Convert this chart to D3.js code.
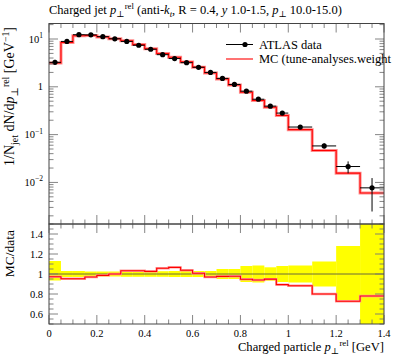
<!DOCTYPE html>
<html><head><meta charset="utf-8">
<script src="https://cdn.jsdelivr.net/npm/d3@7"></script>
<style>
body{margin:0;background:#fff}
svg{display:block}
text{font-family:"Liberation Serif","DejaVu Serif",serif;fill:#000}
</style>
</head><body>
<svg id="c" width="397" height="358"></svg>
<script>
// ---------------- data ----------------
const binEdges = [0,0.05,0.1,0.15,0.2,0.25,0.3,0.35,0.4,0.45,0.5,0.55,0.6,0.65,0.7,0.75,0.8,0.85,0.9,0.95,1.0,1.1,1.2,1.3,1.4];
const dataVals = [3.25,8.9,12.3,12.2,11.2,10.1,8.9,7.4,6.1,4.7,3.9,3.2,2.56,2.0,1.5,1.12,0.81,0.55,0.394,0.282,0.144,0.058,0.0215,0.0077];
const dataErrUp = [0.13,0.03,0.03,0.025,0.025,0.025,0.028,0.028,0.028,0.028,0.03,0.03,0.03,0.03,0.05,0.05,0.08,0.085,0.067,0.08,0.085,0.125,0.28,0.6];
const dataErrDn = [0.065,0.03,0.03,0.025,0.025,0.025,0.028,0.028,0.028,0.028,0.03,0.03,0.03,0.03,0.05,0.05,0.08,0.085,0.067,0.08,0.085,0.125,0.28,0.68];
const mcVals = [3.16,8.48,11.72,11.83,11.05,10.1,9.19,7.64,6.26,4.97,4.16,3.32,2.58,1.94,1.465,1.094,0.767,0.517,0.374,0.252,0.127,0.0464,0.01563,0.00601];
const xTicks = [0,0.2,0.4,0.6,0.8,1.0,1.2,1.4];
const xTickLabels = ["0","0.2","0.4","0.6","0.8","1","1.2","1.4"];
const yDecades = [10,1,0.1,0.01];
const yDecadeLabels = [["10","1"],["1",""],["10","−1"],["10","−2"]];
const ratioTicks = [0.6,0.8,1.0,1.2,1.4];
const ratioTickLabels = ["0.6","0.8","1","1.2","1.4"];

// ---------------- layout ----------------
const L=49, R=384, T=23.5, M=224, B=324;
const svg = d3.select("#c");
const x = d3.scaleLinear().domain([0,1.4]).range([L,R]);
const y = d3.scaleLog().domain([1.35e-3,21.1]).range([M,T]);
const yr = d3.scaleLinear().domain([0.5,1.5]).range([B,M]);

const defs = svg.append("defs");
defs.append("clipPath").attr("id","cu").append("rect").attr("x",L).attr("y",T).attr("width",R-L).attr("height",M-T);
defs.append("clipPath").attr("id","cr").append("rect").attr("x",L).attr("y",M).attr("width",R-L).attr("height",B-M);

const bins = dataVals.map((v,i)=>({lo:binEdges[i],hi:binEdges[i+1],v,up:dataErrUp[i],dn:dataErrDn[i],mc:mcVals[i]}));

// ---------------- ratio panel ----------------
const gr = svg.append("g").attr("clip-path","url(#cr)");
gr.selectAll("rect.band").data(bins).enter().append("rect")
  .attr("x",d=>x(d.lo)).attr("width",d=>x(d.hi)-x(d.lo))
  .attr("y",d=>yr(1+d.up)).attr("height",d=>yr(1-d.dn)-yr(1+d.up))
  .attr("fill","#ffff00");
gr.append("line").attr("x1",L).attr("x2",R).attr("y1",yr(1)).attr("y2",yr(1))
  .attr("stroke","#6b6b3a").attr("stroke-width",1);
const stepPts = (acc)=>{const p=[];bins.forEach(d=>{p.push([x(d.lo),acc(d)]);p.push([x(d.hi),acc(d)]);});return p;};
const line = d3.line();
const rPts = stepPts(d=>yr(d.mc/d.v));
gr.append("path").attr("d",line(rPts)).attr("fill","none").attr("stroke","#ff9a9a").attr("stroke-width",2.4);
gr.append("path").attr("d",line(rPts)).attr("fill","none").attr("stroke","#ff0000").attr("stroke-width",1.1);

// ---------------- upper panel ----------------
const gu = svg.append("g").attr("clip-path","url(#cu)");
const uPts = stepPts(d=>y(d.mc));
gu.append("path").attr("d",line(uPts)).attr("fill","none").attr("stroke","#ff8c8c").attr("stroke-width",3);
gu.append("path").attr("d",line(uPts)).attr("fill","none").attr("stroke","#ff0000").attr("stroke-width",1.1);
const gd = gu.append("g");
gd.selectAll("line.h").data(bins).enter().append("line")
  .attr("x1",d=>x(d.lo)).attr("x2",d=>x(d.hi)).attr("y1",d=>y(d.v)).attr("y2",d=>y(d.v))
  .attr("stroke","#000").attr("stroke-width",1);
gd.selectAll("line.v").data(bins).enter().append("line")
  .attr("x1",d=>x((d.lo+d.hi)/2)).attr("x2",d=>x((d.lo+d.hi)/2))
  .attr("y1",d=>y(d.v*(1+d.up))).attr("y2",d=>y(d.v*(1-d.dn)))
  .attr("stroke","#000").attr("stroke-width",1);
gd.selectAll("circle").data(bins).enter().append("circle")
  .attr("cx",d=>x((d.lo+d.hi)/2)).attr("cy",d=>y(d.v)).attr("r",2.6).attr("fill","#000");

// ---------------- frames & ticks ----------------
const tickCol="#777", frameCol="#444";
const tk = svg.append("g").attr("stroke",tickCol).attr("stroke-width",0.9);
const minorX = d3.range(0,1.4001,0.05);
[[T,1],[M,-1],[M,1],[B,-1]].forEach(([yy,dir])=>{
  minorX.forEach(v=>{
    const major = Math.abs(v/0.2-Math.round(v/0.2))<1e-6;
    const len = major?9:4.5;
    tk.append("line").attr("x1",x(v)).attr("x2",x(v)).attr("y1",yy).attr("y2",yy+dir*len);
  });
});
const [ymin,ymax]=y.domain();
for(let k=-3;k<=1;k++){
  for(let m=1;m<=9;m++){
    const v=m*Math.pow(10,k);
    if(v<ymin||v>ymax) continue;
    const len = m===1?9:4.5;
    [[L,1],[R,-1]].forEach(([xx,dir])=>tk.append("line").attr("x1",xx).attr("x2",xx+dir*len).attr("y1",y(v)).attr("y2",y(v)));
  }
}
const minorR = d3.range(0.5,1.5001,0.05);
minorR.forEach(v=>{
  const major = ratioTicks.some(t=>Math.abs(t-v)<1e-6);
  const len = major?9:4.5;
  [[L,1],[R,-1]].forEach(([xx,dir])=>tk.append("line").attr("x1",xx).attr("x2",xx+dir*len).attr("y1",yr(v)).attr("y2",yr(v)));
});
svg.append("rect").attr("x",L).attr("y",T).attr("width",R-L).attr("height",M-T).attr("fill","none").attr("stroke",frameCol).attr("stroke-width",1);
svg.append("rect").attr("x",L).attr("y",M).attr("width",R-L).attr("height",B-M).attr("fill","none").attr("stroke",frameCol).attr("stroke-width",1);

// ---------------- tick labels ----------------
const fsT = 10.5;
xTicks.forEach((v,i)=>svg.append("text").attr("x",x(v)).attr("y",337).attr("text-anchor","middle").attr("font-size",fsT).text(xTickLabels[i]));
ratioTicks.forEach((v,i)=>svg.append("text").attr("x",43).attr("y",yr(v)+3.5).attr("text-anchor","end").attr("font-size",fsT).text(ratioTickLabels[i]));
yDecades.forEach((v,i)=>{
  const t=svg.append("text").attr("x",43).attr("y",y(v)+3.5).attr("text-anchor","end").attr("font-size",fsT);
  t.append("tspan").text(yDecadeLabels[i][0]);
  if(yDecadeLabels[i][1]) t.append("tspan").attr("font-size",7.5).attr("dy",-4.5).text(yDecadeLabels[i][1]);
});

// ---------------- rich text helper ----------------
function rich(t, parts, base){
  let cur=0;
  parts.forEach(p=>{
    const s=t.append("tspan").text(p.t);
    const target = p.sup? -base*0.38 : p.sub? base*0.25 : 0;
    if(target!==cur){s.attr("dy",target-cur);cur=target;}
    if(p.sup||p.sub) s.attr("font-size",base*0.7);
    if(p.i) s.attr("font-style","italic");
    if(p.dx) s.attr("dx",p.dx);
  });
}
const title = svg.append("text").attr("x",49).attr("y",14).attr("font-size",12.5);
rich(title,[{t:"Charged jet "},{t:"p",i:1},{t:"⊥",sub:1},{t:"rel",sup:1,dx:0.3},{t:" (anti-"},{t:"k",i:1},{t:"t",sub:1,i:1},{t:", R = 0.4, "},{t:"y",i:1},{t:" 1.0-1.5, "},{t:"p",i:1},{t:"⊥",sub:1},{t:" 10.0-15.0)"}],12.5);

const yl = svg.append("text").attr("transform","translate(14,27) rotate(-90)").attr("text-anchor","end").attr("font-size",14);
rich(yl,[{t:"1/N"},{t:"jet",sub:1},{t:" dN/d"},{t:"p",i:1},{t:"⊥",sub:1},{t:"rel",sup:1,dx:0.3},{t:" [GeV"},{t:"−1",sup:1},{t:"]"}],14);
svg.append("text").attr("transform","translate(14,230) rotate(-90)").attr("text-anchor","end").attr("font-size",13.5).text("MC/data");
const xl = svg.append("text").attr("x",384).attr("y",351).attr("text-anchor","end").attr("font-size",12.6);
rich(xl,[{t:"Charged particle "},{t:"p",i:1},{t:"⊥",sub:1},{t:"rel",sup:1,dx:0.3},{t:" [GeV]"}],12.6);

// ---------------- legend ----------------
const lg = svg.append("g");
lg.append("line").attr("x1",226).attr("x2",253).attr("y1",44.5).attr("y2",44.5).attr("stroke","#000").attr("stroke-width",1);
lg.append("circle").attr("cx",245).attr("cy",44.5).attr("r",2.6).attr("fill","#000");
lg.append("text").attr("x",259).attr("y",48.5).attr("font-size",12.5).text("ATLAS data");
lg.append("line").attr("x1",226).attr("x2",253).attr("y1",59).attr("y2",59).attr("stroke","#ff0000").attr("stroke-width",1.1);
lg.append("text").attr("x",259).attr("y",63).attr("font-size",12.5).text("MC (tune-analyses.weight");
</script>
</body></html>
